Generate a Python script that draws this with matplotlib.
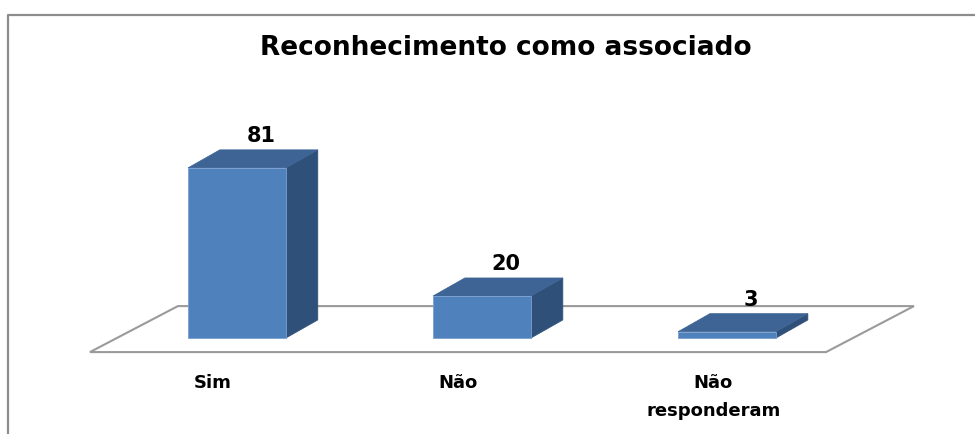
import matplotlib
matplotlib.use('Agg')
from matplotlib import pyplot as plt
from matplotlib.patches import Polygon
from matplotlib.lines import Line2D

# dados do gráfico
categorias = ['Sim', 'Não', 'Não\nresponderam']
valores = [81, 20, 3]
titulo = 'Reconhecimento como associado'

# estilo (unidades de dados: x = categoria, y = valor)
BAR_W = 0.40
DX, DY = 0.13, 8.6          # deslocamento da profundidade 3D
FRONT = '#4F81BD'
TOP = '#3D6495'
SIDE = '#2F5179'

fig = plt.figure(figsize=(9.75, 4.34), dpi=100, facecolor='white')
ax = fig.add_axes([0, 0, 1, 1])
ax.set_xlim(-0.967, 3.012)
ax.set_ylim(-45.7, 160.95)
ax.axis('off')

# piso (plano do eixo)
n = len(valores)
fx0, fx1, fy = -0.60, n - 1 + 0.404, -6.7
fdx, fdy = 0.359, 21.9
piso = Polygon([(fx0, fy), (fx1, fy), (fx1 + fdx, fy + fdy), (fx0 + fdx, fy + fdy)],
               closed=True, facecolor='white', edgecolor='#9a9a9a', lw=1.5, zorder=1)
ax.add_patch(piso)
slot = (fx1 - fx0) / n

# barras 3D
for i, v in enumerate(valores):
    x0, x1 = i - BAR_W / 2, i + BAR_W / 2
    frente = [(x0, 0), (x1, 0), (x1, v), (x0, v)]
    topo = [(x0, v), (x1, v), (x1 + DX, v + DY), (x0 + DX, v + DY)]
    lado = [(x1, 0), (x1 + DX, DY), (x1 + DX, v + DY), (x1, v)]
    ax.add_patch(Polygon(lado, closed=True, facecolor=SIDE, edgecolor=SIDE, lw=0.5, zorder=2))
    ax.add_patch(Polygon(topo, closed=True, facecolor=TOP, edgecolor=TOP, lw=0.5, zorder=2))
    ax.add_patch(Polygon(frente, closed=True, facecolor=FRONT, edgecolor='#7a9fd0', lw=0.6, zorder=3))
    # rótulo de dados
    ax.text(i + DX * 0.75, v + DY + 1.8, str(v), ha='center', va='bottom',
            fontsize=15, fontweight='bold', color='black', zorder=4)
    # rótulo da categoria, centrado na borda frontal do piso
    ax.text(fx0 + (i + 0.5) * slot + (0.04 if '\n' in categorias[i] else 0), -17.0,
            categorias[i], ha='center', va='top', multialignment='center',
            fontsize=13, fontweight='bold', color='black', linespacing=1.75)

# título
fig.text(0.519, 0.889, titulo, ha='center', va='center', fontsize=19, fontweight='bold')

# borda do gráfico (esquerda e topo)
bx, by = 8 / 975, 1 - 15 / 434
fig.add_artist(Line2D([bx, bx, 1.0], [0.0, by, by], transform=fig.transFigure,
                      color='#8c8c8c', lw=1.6))

plt.savefig('out.png', dpi=100, facecolor='white')
plt.close()
